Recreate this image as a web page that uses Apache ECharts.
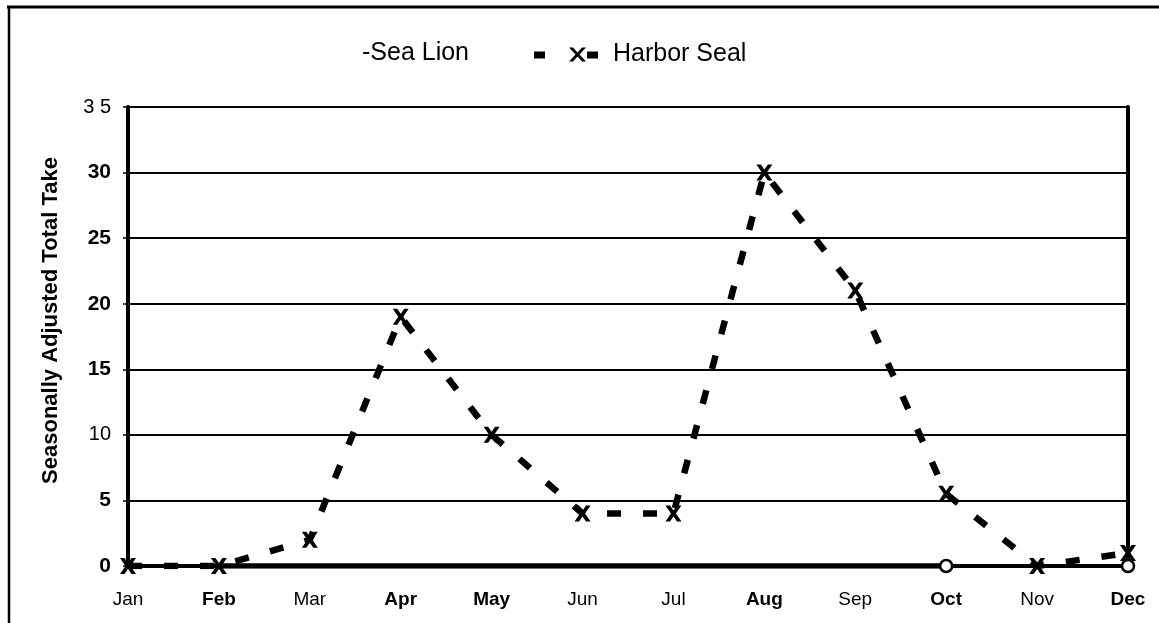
<!DOCTYPE html>
<html>
<head>
<meta charset="utf-8">
<script src="https://cdn.jsdelivr.net/npm/echarts@6/dist/echarts.min.js"></script>
<style>
  html, body { margin: 0; padding: 0; background: #fff; }
  #chart { width: 1159px; height: 623px; }
</style>
</head>
<body>
<div id="chart"></div>
<script>
// ---- data ----
const months = ['Jan', 'Feb', 'Mar', 'Apr', 'May', 'Jun', 'Jul', 'Aug', 'Sep', 'Oct', 'Nov', 'Dec'];
const harborSeal = [0, 0, 2, 19, 10, 4, 4, 30, 21, 5.5, 0, 1];
const seaLion = [0, 0, 0, 0, 0, 0, 0, 0, 0, 0, 0, 0];
const yTickLabels = ['0', '5', '10', '15', '20', '25', '30', '3 5'];
const yTitle = 'Seasonally Adjusted Total Take';

// ---- styling helpers ----
const boldMonths = new Set(['Feb', 'Apr', 'May', 'Aug', 'Oct', 'Dec']);
const boldY = new Set(['0', '5', '15', '20', '25', '30']);
const circleMonths = new Set(['Oct', 'Dec']);
const FONT = 'Liberation Sans, Arial, sans-serif';
const X_SYMBOL = 'path://M0,0 h4.5 l3.5,5 l3.5,-5 h4.5 l-5.5,8 l5.5,8 h-4.5 l-3.5,-5 l-3.5,5 h-4.5 l5.5,-8 z';
const LEG_ICON = 'path://M0,5 h11 v7 h-11 z M35,1 h4 l4.5,5 l4.5,-5 h4 l-6.5,7 l6.5,7 h-4 l-4.5,-5 l-4.5,5 h-4 l6.5,-7 z M53,5 h11 v7 h-11 z';

const thickFrom = months.indexOf('Feb'), thickTo = months.indexOf('Oct');
const seaLionThick = seaLion.map((v, i) => (i >= thickFrom && i <= thickTo) ? v : null);

const chart = echarts.init(document.getElementById('chart'), null, { renderer: 'canvas' });
chart.setOption({
  backgroundColor: '#fff',
  animation: false,
  graphic: [
    { type: 'line', shape: { x1: 7, y1: 7, x2: 1159, y2: 7 }, style: { stroke: '#000', lineWidth: 3 } },
    { type: 'line', shape: { x1: 9, y1: 6, x2: 9, y2: 623 }, style: { stroke: '#000', lineWidth: 2.5 } }
  ],
  legend: [
    {
      data: ['Sea Lion'], left: 352, top: 36, icon: 'none', itemWidth: 0, itemGap: 0,
      formatter: n => '-' + n,
      textStyle: { fontFamily: FONT, fontSize: 25, color: '#000' }
    },
    {
      data: [{ name: 'Harbor Seal', icon: LEG_ICON }], left: 529, top: 37, itemWidth: 64, itemHeight: 15,
      textStyle: { fontFamily: FONT, fontSize: 25, color: '#000', padding: [0, 0, 0, 10] },
      itemStyle: { color: '#000' }
    }
  ],
  grid: { left: 128, right: 31, top: 107, bottom: 57, containLabel: false },
  xAxis: [
    {
      type: 'category', data: months, boundaryGap: false,
      axisLine: { show: false }, axisTick: { show: false },
      axisLabel: {
        margin: 24, color: '#000', fontFamily: FONT, fontSize: 19,
        formatter: v => boldMonths.has(v) ? '{b|' + v + '}' : '{n|' + v + '}',
        rich: {
          b: { fontFamily: FONT, fontSize: 19, fontWeight: 'bold', color: '#000' },
          n: { fontFamily: FONT, fontSize: 19, color: '#000' }
        }
      }
    },
    {
      type: 'category', data: months, boundaryGap: false, position: 'top',
      axisLine: { show: true, lineStyle: { color: '#000', width: 4 } },
      axisTick: { show: false }, axisLabel: { show: false }
    }
  ],
  yAxis: [
    {
      type: 'value', min: 0, max: 35, interval: 5,
      name: yTitle, nameLocation: 'middle', nameGap: 66, nameRotate: 90,
      nameTextStyle: { fontFamily: FONT, fontSize: 22, fontWeight: 'bold', color: '#000', padding: [0, 0, 0, 32] },
      axisLine: { show: true, lineStyle: { color: '#000', width: 4 } },
      axisTick: { show: true, length: 5, lineStyle: { color: '#000', width: 1.5 } },
      axisLabel: {
        margin: 17, color: '#000',
        formatter: v => { const t = yTickLabels[Math.round(v / 5)]; return boldY.has(t) ? '{b|' + t + '}' : '{n|' + t + '}'; },
        rich: {
          b: { fontFamily: FONT, fontSize: 21, fontWeight: 'bold', color: '#000' },
          n: { fontFamily: FONT, fontSize: 20, color: '#000' }
        }
      },
      splitLine: { show: true, lineStyle: { color: '#000', width: 2 } }
    },
    {
      type: 'value', min: 0, max: 35, interval: 5, position: 'right',
      axisLine: { show: true, lineStyle: { color: '#000', width: 4 } },
      axisTick: { show: false }, axisLabel: { show: false }, splitLine: { show: false }
    }
  ],
  series: [
    {
      name: 'Sea Lion', type: 'line', z: 3,
      data: seaLion.map((v, i) => ({
        value: v,
        symbol: circleMonths.has(months[i]) ? 'circle' : 'none',
        symbolSize: 12
      })),
      showAllSymbol: true,
      lineStyle: { color: '#000', width: 3 },
      itemStyle: { color: '#fff', borderColor: '#000', borderWidth: 2.5 }
    },
    {
      name: 'Sea Lion', type: 'line', z: 2, symbol: 'none',
      data: seaLionThick,
      lineStyle: { color: '#000', width: 5.5 }
    },
    {
      name: 'Harbor Seal', type: 'line', z: 4,
      data: harborSeal,
      symbol: X_SYMBOL, symbolSize: [16, 16], showAllSymbol: true,
      lineStyle: { color: '#000', width: 6.5, type: [14, 22], cap: 'butt' },
      itemStyle: { color: '#000' }
    }
  ]
});
</script>
</body>
</html>
